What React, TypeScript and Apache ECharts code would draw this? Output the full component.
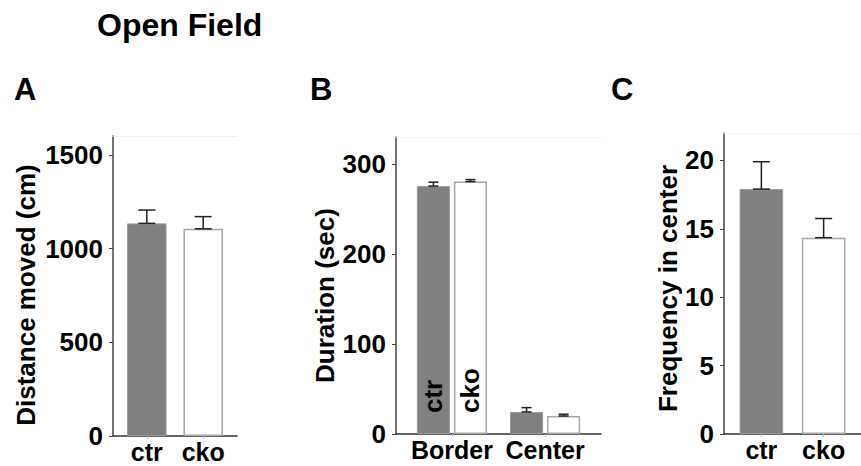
import React, { useEffect, useRef } from 'react';
import * as echarts from 'echarts';

// ---- Data ----
const groups = ['ctr', 'cko'];
const distanceMean = [1134, 1105];
const distanceSem = [71, 65];
const distanceTicks = [0, 500, 1000, 1500];

const zones = ['Border', 'Center'];
const durationCtr = [275.5, 24.5];
const durationCtrSem = [4.3, 4.8];
const durationCko = [280.5, 20];
const durationCkoSem = [2.2, 2];
const durationTicks = [0, 100, 200, 300];

const frequencyMean = [17.9, 14.35];
const frequencySem = [2.0, 1.4];
const frequencyTicks = [0, 5, 10, 15, 20];

// ---- Styles ----
const FONT = 'Liberation Sans';
const CTR_STYLE = { color: '#808080', borderColor: '#9a9a9a', borderWidth: 1 };
const CKO_STYLE = { color: '#ffffff', borderColor: '#a8a8a8', borderWidth: 1.5 };
const ERR_STYLE = { stroke: '#222', lineWidth: 1.5 };
const B_BAR_W = 0.355;
const B_GAP = 0.12;

function errRender(capPx: number) {
  return (params: any, api: any) => {
    const x = api.value(0);
    const m = api.value(1);
    const e = api.value(2);
    const top = api.coord([x, m + e]);
    const bot = api.coord([x, m]);
    const hw = capPx / 2;
    return {
      type: 'group',
      children: [
        { type: 'line', shape: { x1: top[0], y1: top[1], x2: bot[0], y2: bot[1] }, style: ERR_STYLE },
        { type: 'line', shape: { x1: top[0] - hw, y1: top[1], x2: top[0] + hw, y2: top[1] }, style: ERR_STYLE },
        { type: 'line', shape: { x1: bot[0] - hw, y1: bot[1], x2: bot[0] + hw, y2: bot[1] }, style: ERR_STYLE },
      ],
    };
  };
}

function xAxisFor(gridIndex: number, cats: string[]) {
  const pos = cats.map((_, i) => i + 1);
  return {
    type: 'value',
    gridIndex,
    min: 0.4,
    max: cats.length + 0.6,
    axisLine: { show: true, onZero: false, lineStyle: { color: '#333', width: 1.5 } },
    axisTick: { show: true, customValues: pos, length: 3, lineStyle: { color: '#bbb' } },
    axisLabel: {
      customValues: pos,
      formatter: (v: number) => cats[Math.round(v) - 1] ?? '',
      fontSize: 25,
      lineHeight: 22,
      fontWeight: 'bold',
      color: '#000',
      fontFamily: FONT,
      margin: 5,
    },
    splitLine: { show: false },
  };
}

function topAxisFor(gridIndex: number, cats: string[]) {
  return {
    type: 'value',
    gridIndex,
    position: 'top',
    min: 0.4,
    max: cats.length + 0.6,
    axisLine: { show: true, onZero: false, lineStyle: { color: '#f0f0f0', width: 1 } },
    axisTick: { show: false },
    axisLabel: { show: false },
    splitLine: { show: false },
  };
}

function yAxisFor(gridIndex: number, max: number, ticks: number[], name: string, nameGap: number, shift: number) {
  return {
    type: 'value',
    gridIndex,
    min: 0,
    max,
    name,
    nameLocation: 'middle',
    nameRotate: 90,
    nameGap,
    nameTextStyle: {
      fontSize: 26,
      fontWeight: 'bold',
      color: '#000',
      fontFamily: FONT,
      padding: [0, shift, 0, 0],
    },
    axisLine: { show: true, lineStyle: { color: '#444', width: 1.5 } },
    axisTick: { show: true, customValues: ticks, length: 4, lineStyle: { color: '#444' } },
    axisLabel: {
      customValues: ticks,
      formatter: (v: number) => String(v),
      fontSize: 26,
      fontWeight: 'bold',
      color: '#000',
      fontFamily: FONT,
      margin: 10,
    },
    splitLine: { show: false },
  };
}

const labelStyle = {
  show: false,
  position: 'insideBottom',
  rotate: 90,
  align: 'left',
  verticalAlign: 'middle',
  distance: 21,
  fontSize: 26,
  fontWeight: 'bold',
  color: '#000',
  fontFamily: FONT,
  formatter: '{a}',
};

export default function App() {
  const ref = useRef<HTMLDivElement>(null);
  useEffect(() => {
    if (!ref.current) return;
    const chart = echarts.init(ref.current, null, { renderer: 'svg' });
    const dOff = (B_BAR_W * (1 + B_GAP)) / 2;
    const titleStyle = { fontSize: 31, fontWeight: 'bold', color: '#000', fontFamily: FONT };
    chart.setOption({
      animation: false,
      backgroundColor: '#fff',
      textStyle: { fontFamily: FONT },
      title: [
        { text: 'Open Field', left: 97, top: 9, padding: 0, textStyle: { ...titleStyle, fontSize: 32 } },
        { text: 'A', left: 14, top: 74, padding: 0, textStyle: titleStyle },
        { text: 'B', left: 310, top: 74, padding: 0, textStyle: titleStyle },
        { text: 'C', left: 611, top: 74, padding: 0, textStyle: titleStyle },
      ],
      grid: [
        { left: 113, top: 136, width: 124, height: 300 },
        { left: 396, top: 137, width: 205, height: 297 },
        { left: 724, top: 133, width: 150, height: 301 },
      ],
      xAxis: [
        xAxisFor(0, groups),
        xAxisFor(1, zones),
        xAxisFor(2, groups),
        topAxisFor(0, groups),
        topAxisFor(1, zones),
        topAxisFor(2, groups),
      ],
      yAxis: [
        yAxisFor(0, 1600, distanceTicks, 'Distance moved (cm)', 74, 18),
        yAxisFor(1, 330, durationTicks, 'Duration (sec)', 58, 20),
        yAxisFor(2, 22, frequencyTicks, 'Frequency in center', 42, 10),
      ],
      series: [
        // Panel A
        {
          type: 'bar',
          xAxisIndex: 0,
          yAxisIndex: 0,
          barWidth: '70%',
          data: groups.map((g, i) => ({ value: [i + 1, distanceMean[i]], itemStyle: i === 0 ? CTR_STYLE : CKO_STYLE })),
        },
        {
          type: 'custom',
          xAxisIndex: 0,
          yAxisIndex: 0,
          z: 5,
          renderItem: errRender(17),
          data: groups.map((g, i) => [i + 1, distanceMean[i], distanceSem[i]]),
        },
        // Panel B
        {
          type: 'bar',
          name: 'ctr',
          xAxisIndex: 1,
          yAxisIndex: 1,
          barWidth: (B_BAR_W * 100).toFixed(1) + '%',
          barGap: (B_GAP * 100).toFixed(0) + '%',
          itemStyle: CTR_STYLE,
          label: labelStyle,
          data: zones.map((z, i) => (i === 0 ? { value: [i + 1, durationCtr[i]], label: { show: true } } : [i + 1, durationCtr[i]])),
        },
        {
          type: 'bar',
          name: 'cko',
          xAxisIndex: 1,
          yAxisIndex: 1,
          barWidth: (B_BAR_W * 100).toFixed(1) + '%',
          barGap: (B_GAP * 100).toFixed(0) + '%',
          itemStyle: CKO_STYLE,
          label: labelStyle,
          data: zones.map((z, i) => (i === 0 ? { value: [i + 1, durationCko[i]], label: { show: true } } : [i + 1, durationCko[i]])),
        },
        {
          type: 'custom',
          xAxisIndex: 1,
          yAxisIndex: 1,
          z: 5,
          renderItem: errRender(10),
          data: zones.map((z, i) => [i + 1 - dOff, durationCtr[i], durationCtrSem[i]]),
        },
        {
          type: 'custom',
          xAxisIndex: 1,
          yAxisIndex: 1,
          z: 5,
          renderItem: errRender(10),
          data: zones.map((z, i) => [i + 1 + dOff, durationCko[i], durationCkoSem[i]]),
        },
        // Panel C
        {
          type: 'bar',
          xAxisIndex: 2,
          yAxisIndex: 2,
          barWidth: '70%',
          data: groups.map((g, i) => ({ value: [i + 1, frequencyMean[i]], itemStyle: i === 0 ? CTR_STYLE : CKO_STYLE })),
        },
        {
          type: 'custom',
          xAxisIndex: 2,
          yAxisIndex: 2,
          z: 5,
          renderItem: errRender(17),
          data: groups.map((g, i) => [i + 1, frequencyMean[i], frequencySem[i]]),
        },
      ],
    });
    return () => chart.dispose();
  }, []);
  return (
    <div
      ref={ref}
      style={{ position: 'absolute', left: 0, top: 0, width: 861, height: 466, background: '#fff' }}
    />
  );
}
